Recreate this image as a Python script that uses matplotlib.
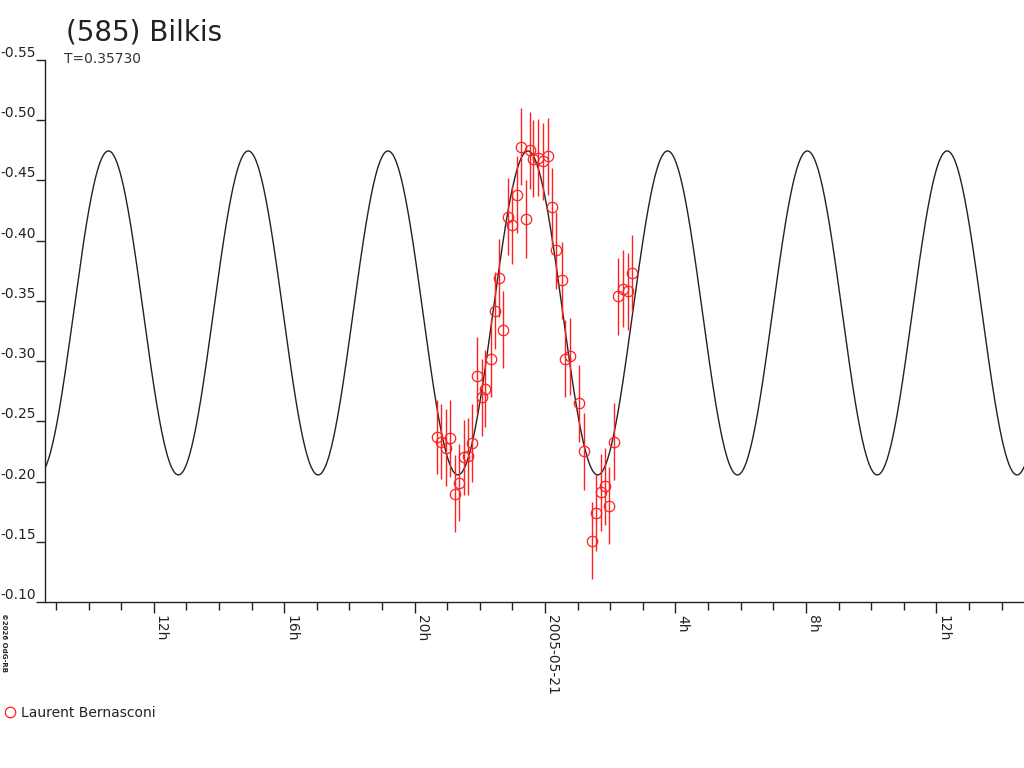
import numpy as np
import matplotlib
matplotlib.use('Agg')
import matplotlib.pyplot as plt
from matplotlib.lines import Line2D
from matplotlib.ticker import MultipleLocator, FixedLocator

# observations: hours from 2005-05-21 00:00 UT, relative magnitude, error
obs_hours = [-3.32, -3.20, -3.04, -2.91, -2.77, -2.63, -2.49, -2.35, -2.23,
             -2.08, -1.94, -1.84, -1.67, -1.54, -1.41, -1.28, -1.14, -1.01,
             -0.87, -0.74, -0.59, -0.45, -0.38, -0.22, -0.07, 0.09, 0.22,
             0.34, 0.51, 0.61, 0.77, 1.04, 1.18, 1.43, 1.56, 1.72, 1.84,
             1.97, 2.12, 2.25, 2.40, 2.53, 2.68]
obs_mag = [-0.237, -0.233, -0.228, -0.236, -0.190, -0.199, -0.220, -0.221,
           -0.232, -0.288, -0.270, -0.277, -0.302, -0.342, -0.369, -0.326,
           -0.420, -0.413, -0.438, -0.478, -0.418, -0.475, -0.468, -0.469,
           -0.466, -0.470, -0.428, -0.392, -0.367, -0.302, -0.304, -0.265,
           -0.225, -0.151, -0.174, -0.191, -0.196, -0.180, -0.233, -0.354,
           -0.360, -0.358, -0.373]
obs_err = [0.031, 0.031, 0.032, 0.032, 0.032, 0.032, 0.031, 0.032, 0.032,
           0.032, 0.032, 0.032, 0.032, 0.032, 0.032, 0.032, 0.032, 0.032,
           0.032, 0.032, 0.032, 0.032, 0.032, 0.032, 0.032, 0.032, 0.032,
           0.032, 0.032, 0.032, 0.032, 0.032, 0.032, 0.032, 0.032, 0.032,
           0.032, 0.032, 0.032, 0.032, 0.032, 0.032, 0.032]
observer = 'Laurent Bernasconi'

# fitted model: period (days) and Fourier terms
period_days = 0.35730
model_mean = -0.340
model_amp = 0.1345
model_peak_hour = -0.53

x_range = (-15.34, 14.69)
y_ticks = [-0.55, -0.50, -0.45, -0.40, -0.35, -0.30, -0.25, -0.20, -0.15, -0.10]
x_major = [-12, -8, -4, 0, 4, 8, 12]
x_labels = ['12h', '16h', '20h', '2005-05-21', '4h', '8h', '12h']

################################################################################

ink = '#222222'
plt.rcParams['font.family'] = 'DejaVu Sans'
plt.rcParams['font.size'] = 10

fig = plt.figure(figsize=(10.24, 7.68), dpi=100)
ax = fig.add_axes([45/1024, 1-602/768, 1-45/1024, 542/768])

P_h = period_days*24
t = np.linspace(x_range[0], x_range[1], 2000)
model = model_mean - model_amp*np.cos(4*np.pi*(t-model_peak_hour)/P_h)
ax.plot(t, model, c=ink, lw=1)

ax.errorbar(obs_hours, obs_mag, yerr=obs_err, fmt='none', ecolor='#ff2020',
            elinewidth=1, capsize=0)
ax.plot(obs_hours, obs_mag, 'o', mfc='none', mec='#ff2020', ms=7.5, mew=0.9,
        ls='none')

ax.set_xlim(*x_range)
ax.set_ylim(-0.10, -0.55)
ax.set_yticks(y_ticks)
ax.set_yticklabels([f'{v:.2f}' for v in y_ticks])
for lab in ax.get_yticklabels():
  lab.set_verticalalignment('bottom')
ax.tick_params(axis='y', length=6.5, width=1, pad=0, colors=ink)

ax.xaxis.set_major_locator(FixedLocator(x_major))
ax.xaxis.set_minor_locator(MultipleLocator(1))
ax.set_xticklabels(x_labels, rotation=-90, ha='left', va='top')
ax.tick_params(axis='x', which='major', length=8, width=1, pad=1.5, colors=ink)
ax.tick_params(axis='x', which='minor', length=5.8, width=1, colors=ink)

for s in ['top', 'right']:
  ax.spines[s].set_visible(False)
for s in ['left', 'bottom']:
  ax.spines[s].set_color(ink)
  ax.spines[s].set_linewidth(1)
ax.patch.set_alpha(0)

fig.text(66/1024, 1-40/768, '(585) Bilkis', fontsize=20, color=ink,
         va='baseline')
fig.text(64/1024, 1-63/768, f'T={period_days:.5f}', fontsize=10, color='#333333',
         va='baseline')
fig.text(1/1024, 1-613/768, '©2026 OdG-RB', fontsize=5, rotation=-90,
         weight='bold', va='top', ha='left', color=ink)

handle = Line2D([], [], marker='o', mfc='none', mec='#ff2020', ms=7.5, mew=0.9,
                ls='none')
fig.legend(handles=[handle], labels=[observer], loc='center left',
           bbox_to_anchor=(3/1024, 1-713/768), frameon=False, handlelength=1,
           handletextpad=0.3, borderpad=0, borderaxespad=0, labelcolor=ink)

fig.savefig('out.png', dpi=100)
